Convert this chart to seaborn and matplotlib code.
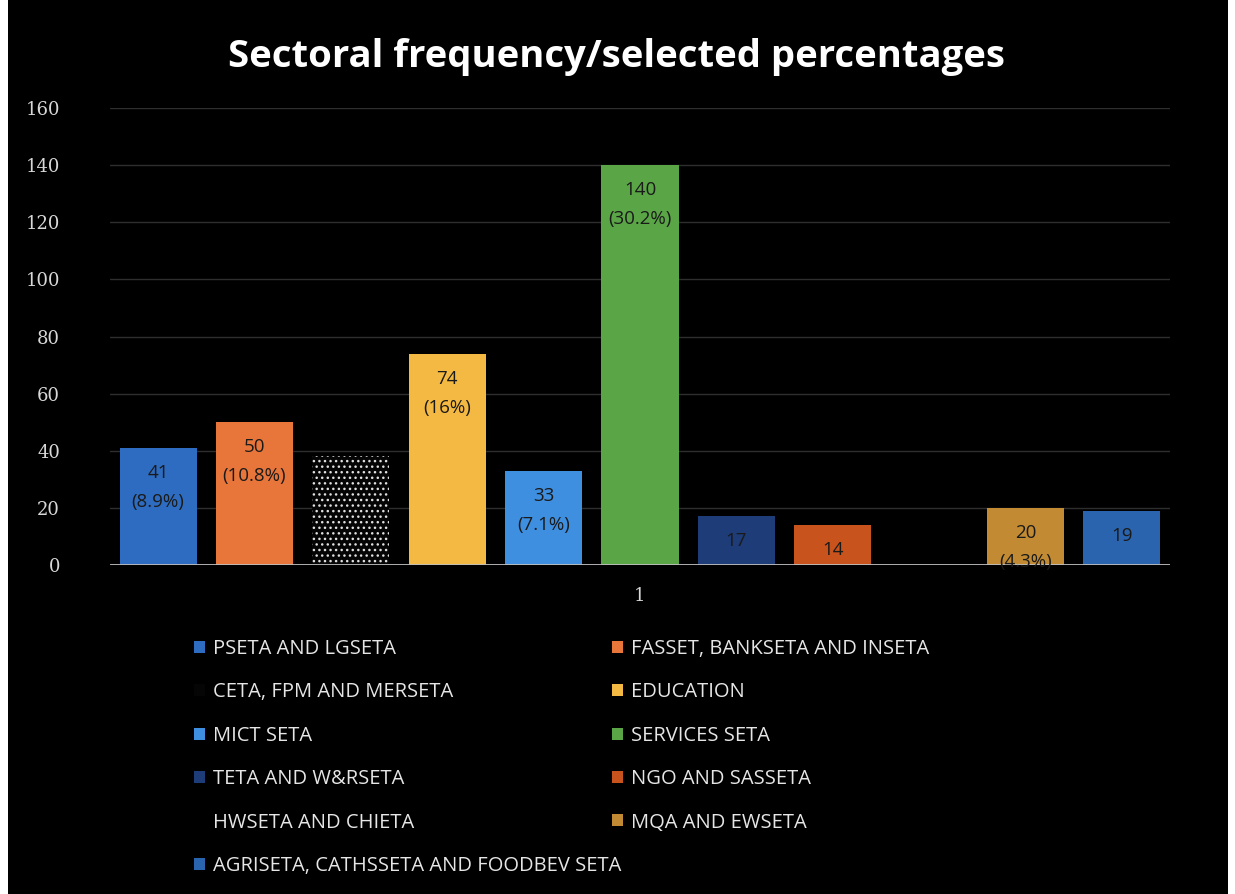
import matplotlib
matplotlib.use("Agg")
import matplotlib.pyplot as plt
import matplotlib.patches as mpatches
from matplotlib.transforms import offset_copy
import seaborn as sns
import pandas as pd

categories = ["PSETA AND LGSETA", "FASSET, BANKSETA AND INSETA", "CETA, FPM AND MERSETA",
              "EDUCATION", "MICT SETA", "SERVICES SETA", "TETA AND W&RSETA",
              "NGO AND SASSETA", "HWSETA AND CHIETA", "MQA AND EWSETA",
              "AGRISETA, CATHSSETA AND FOODBEV SETA"]
values = [41, 50, 38, 74, 33, 140, 17, 14, 17, 20, 19]
percent_labels = ["(8.9%)", "(10.8%)", "", "(16%)", "(7.1%)", "(30.2%)", "", "", "", "(4.3%)", ""]
show_label = [True, True, False, True, True, True, True, True, False, True, True]
x_label = ["1"]
y_ticks = [0, 20, 40, 60, 80, 100, 120, 140, 160]
title = "Sectoral frequency/selected percentages"

colors = ["#2d6cc0", "#e8763a", "#050505", "#f4b942", "#3f8fe0", "#5aa647",
          "#1d3c78", "#c9531c", "#000000", "#c28a32", "#2a64ae"]

df = pd.DataFrame({"group": x_label * len(categories), "sector": categories, "count": values})

sns.set_theme(style="dark")
plt.rcParams["font.family"] = ["Open Sans", "DejaVu Sans"]

fig = plt.figure(figsize=(12.35, 8.94), dpi=100, facecolor="black")
ax = fig.add_axes([110 / 1235, 1 - 565 / 894, 1060 / 1235, (565 - 108) / 894])
ax.set_facecolor("black")

sns.barplot(data=df, x="group", y="count", hue="sector", hue_order=categories,
            palette=colors, width=1.0, gap=0.2, ax=ax, legend=False, saturation=1,
            linewidth=0)

ax.set_ylim(0, 160)
ax.set_xlim(-0.5, 0.5)
ax.set_yticks(y_ticks)
ax.set_yticklabels([str(t) for t in y_ticks], family="DejaVu Serif", color="#d8d8d8", fontsize=13)
ax.tick_params(axis="y", length=0, pad=36)
ax.tick_params(axis="x", length=0, pad=16)
ax.set_xticks([0])
ax.set_xticklabels(x_label, family="DejaVu Serif", color="#d8d8d8", fontsize=13)
ax.set_xlabel("")
ax.set_ylabel("")
ax.grid(axis="y", color="#2e2e2e", linewidth=1)
ax.grid(axis="x", visible=False)
for s in ax.spines.values():
    s.set_visible(False)
ax.axhline(0, color="#bfbfbf", linewidth=2, zorder=5)

bars = ax.patches[:len(categories)]
for b in bars:
    b.set_linewidth(0)
    b.set_edgecolor("none")
# CETA bar speckle
bars[2].set_hatch("...")
bars[2].set_edgecolor("#e0e0e0")
bars[2].set_linewidth(0)

for bar, v, p, show in zip(bars, values, percent_labels, show_label):
    if not show:
        continue
    cx = bar.get_x() + bar.get_width() / 2
    tr = offset_copy(ax.transData, fig=fig, x=0, y=-25, units="dots")
    ax.text(cx, v, str(v), transform=tr, ha="center", va="center",
            fontsize=13.5, color="#1a1a1a", zorder=6)
    if p:
        tr2 = offset_copy(ax.transData, fig=fig, x=0, y=-54, units="dots")
        ax.text(cx, v, p, transform=tr2, ha="center", va="center",
                fontsize=13.5, color="#1a1a1a", zorder=6)

fig.suptitle(title, x=617 / 1235, y=1 - 57 / 894, va="center", color="white",
             fontsize=27.5, fontweight="bold")

handles = [mpatches.Patch(facecolor=c, edgecolor="none") for c in colors]
left_idx = [0, 2, 4, 6, 8, 10]
right_idx = [1, 3, 5, 7, 9]
common = dict(frameon=False, fontsize=14.5, labelcolor="#e6e6e6", handlelength=0.55,
              handleheight=0.55, handletextpad=0.4, labelspacing=1.16, borderpad=0)
leg1 = fig.legend([handles[i] for i in left_idx], [categories[i] for i in left_idx],
                  loc="upper left", bbox_to_anchor=(184 / 1235, 1 - 629 / 894), **common)
leg2 = fig.legend([handles[i] for i in right_idx], [categories[i] for i in right_idx],
                  loc="upper left", bbox_to_anchor=(602 / 1235, 1 - 629 / 894), **common)

fig.patches.append(mpatches.Rectangle((0, 0), 8 / 1235, 1, transform=fig.transFigure,
                                      facecolor="white", edgecolor="none"))
fig.patches.append(mpatches.Rectangle((1 - 7 / 1235, 0), 7 / 1235, 1, transform=fig.transFigure,
                                      facecolor="white", edgecolor="none"))

fig.savefig("out.png", dpi=100, facecolor="black")
